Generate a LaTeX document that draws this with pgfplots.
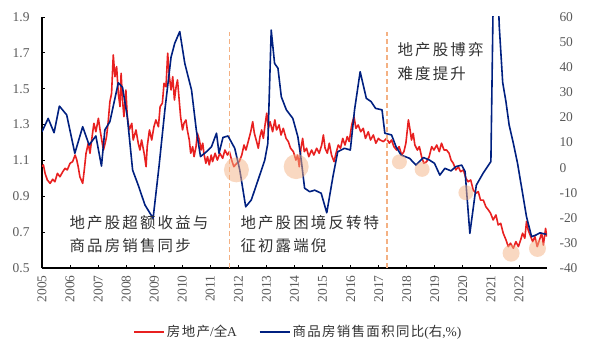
\documentclass[border=0pt]{standalone}
\usepackage{pgfplots}
\pgfplotsset{compat=1.18}
\usepackage{fontspec}
\setmainfont{Liberation Serif}
\newfontfamily\cjk[LetterSpace=14]{Noto Sans CJK SC}
\newfontfamily\cjkleg[LetterSpace=10]{Noto Sans CJK SC}
\definecolor{myred}{RGB}{232,32,32}
\definecolor{myblue}{RGB}{0,32,128}
\definecolor{peach}{RGB}{244,177,131}
\definecolor{tickgray}{RGB}{89,89,89}
\definecolor{txtgray}{RGB}{50,50,50}
\pgfplotstableread{
t v
2005.00 1.065
2005.05 1.075
2005.11 1.028
2005.19 0.991
2005.29 0.972
2005.38 0.995
2005.46 0.981
2005.55 1.028
2005.64 1.009
2005.74 1.037
2005.82 1.056
2005.90 1.047
2006.00 1.084
2006.09 1.093
2006.18 1.130
2006.24 1.102
2006.29 1.065
2006.35 1.009
2006.45 0.972
2006.50 1.037
2006.57 1.140
2006.65 1.196
2006.71 1.140
2006.77 1.214
2006.85 1.307
2006.92 1.260
2007.01 1.335
2007.07 1.270
2007.13 1.214
2007.19 1.158
2007.25 1.196
2007.30 1.232
2007.36 1.316
2007.42 1.428
2007.48 1.474
2007.54 1.688
2007.60 1.567
2007.66 1.623
2007.72 1.474
2007.78 1.400
2007.82 1.586
2007.87 1.437
2007.92 1.344
2007.99 1.493
2008.04 1.344
2008.11 1.270
2008.20 1.307
2008.25 1.214
2008.35 1.270
2008.43 1.196
2008.49 1.158
2008.55 1.214
2008.64 1.140
2008.71 1.065
2008.75 1.177
2008.83 1.270
2008.91 1.214
2008.99 1.288
2009.06 1.326
2009.15 1.288
2009.21 1.400
2009.29 1.419
2009.35 1.530
2009.42 1.511
2009.48 1.698
2009.54 1.567
2009.60 1.493
2009.66 1.567
2009.72 1.437
2009.78 1.511
2009.83 1.549
2009.89 1.437
2009.94 1.344
2010.01 1.270
2010.06 1.307
2010.13 1.326
2010.18 1.270
2010.25 1.214
2010.30 1.140
2010.37 1.177
2010.42 1.121
2010.49 1.177
2010.54 1.251
2010.61 1.214
2010.67 1.158
2010.73 1.196
2010.77 1.140
2010.84 1.084
2010.90 1.121
2010.96 1.075
2011.03 1.130
2011.08 1.093
2011.17 1.140
2011.25 1.102
2011.34 1.140
2011.44 1.112
2011.52 1.158
2011.61 1.130
2011.68 1.149
2011.76 1.102
2011.84 1.065
2011.94 1.084
2012.03 1.093
2012.12 1.130
2012.20 1.186
2012.27 1.158
2012.35 1.205
2012.44 1.260
2012.51 1.316
2012.57 1.251
2012.65 1.205
2012.71 1.168
2012.77 1.233
2012.83 1.270
2012.89 1.223
2012.95 1.298
2013.01 1.363
2013.07 1.279
2013.13 1.316
2013.22 1.260
2013.30 1.326
2013.36 1.270
2013.45 1.298
2013.52 1.242
2013.60 1.279
2013.70 1.223
2013.78 1.205
2013.86 1.168
2013.96 1.149
2014.05 1.102
2014.11 1.130
2014.17 1.065
2014.23 1.168
2014.29 1.223
2014.35 1.149
2014.43 1.168
2014.51 1.121
2014.61 1.158
2014.69 1.130
2014.79 1.168
2014.88 1.140
2014.97 1.186
2015.03 1.242
2015.09 1.168
2015.17 1.140
2015.24 1.196
2015.32 1.130
2015.41 1.093
2015.48 1.140
2015.56 1.186
2015.64 1.168
2015.72 1.223
2015.80 1.186
2015.88 1.233
2015.95 1.205
2016.04 1.298
2016.12 1.344
2016.19 1.279
2016.27 1.298
2016.36 1.260
2016.45 1.279
2016.53 1.223
2016.63 1.260
2016.71 1.214
2016.81 1.242
2016.90 1.196
2016.99 1.223
2017.05 1.214
2017.17 1.205
2017.28 1.223
2017.38 1.196
2017.46 1.214
2017.54 1.177
2017.64 1.158
2017.73 1.177
2017.82 1.130
2017.90 1.149
2017.97 1.196
2018.06 1.326
2018.12 1.270
2018.17 1.214
2018.23 1.251
2018.29 1.186
2018.38 1.158
2018.45 1.177
2018.53 1.121
2018.61 1.084
2018.71 1.093
2018.80 1.121
2018.89 1.177
2018.97 1.158
2019.07 1.186
2019.16 1.149
2019.24 1.196
2019.33 1.158
2019.42 1.158
2019.51 1.140
2019.58 1.102
2019.66 1.084
2019.75 1.047
2019.84 1.065
2019.92 1.037
2020.02 1.047
2020.11 1.000
2020.19 0.981
2020.28 0.991
2020.37 0.935
2020.47 0.917
2020.55 0.926
2020.63 0.879
2020.73 0.879
2020.82 0.842
2020.91 0.824
2020.99 0.805
2021.08 0.768
2021.18 0.796
2021.26 0.740
2021.35 0.749
2021.44 0.694
2021.54 0.656
2021.62 0.619
2021.70 0.638
2021.80 0.610
2021.89 0.647
2021.98 0.619
2022.06 0.656
2022.13 0.694
2022.21 0.666
2022.27 0.760
2022.33 0.712
2022.42 0.675
2022.49 0.647
2022.57 0.675
2022.65 0.619
2022.73 0.656
2022.81 0.694
2022.87 0.628
2022.95 0.721
2022.99 0.675
}\redtable
\pgfplotstableread{
t v
2005.00 14.3
2005.22 19.6
2005.43 13.9
2005.62 24.5
2005.88 21.0
2006.17 5.7
2006.45 16.3
2006.68 9.0
2006.92 12.6
2007.12 0.6
2007.24 15.0
2007.42 18.3
2007.72 33.8
2007.87 32.0
2008.04 20.3
2008.23 -1.0
2008.43 -7.0
2008.67 -14.9
2008.96 -20.2
2009.17 0.4
2009.38 23.0
2009.60 44.0
2009.73 49.5
2009.91 54.2
2010.09 41.5
2010.33 30.9
2010.50 15.0
2010.65 4.4
2010.86 6.3
2011.04 8.3
2011.22 13.7
2011.31 5.7
2011.45 12.0
2011.63 12.6
2011.87 7.7
2012.05 -1.0
2012.26 -15.6
2012.46 -12.9
2012.70 -5.0
2012.94 3.0
2013.05 9.7
2013.17 54.8
2013.29 41.5
2013.41 39.6
2013.53 28.2
2013.71 23.0
2013.94 19.6
2014.12 12.3
2014.24 3.0
2014.36 -8.2
2014.54 -9.6
2014.72 -9.0
2014.95 -10.2
2015.15 -18.0
2015.37 -3.6
2015.54 6.3
2015.78 7.7
2015.99 7.0
2016.14 23.0
2016.34 38.2
2016.56 27.6
2016.73 26.3
2016.89 23.6
2017.12 23.0
2017.22 13.7
2017.46 13.0
2017.62 8.3
2017.80 5.0
2018.10 3.7
2018.33 1.0
2018.60 4.0
2018.81 3.0
2018.99 1.7
2019.18 -3.0
2019.36 -0.3
2019.58 -1.3
2019.75 0.4
2019.96 1.0
2020.08 -1.6
2020.25 -26.2
2020.48 -7.0
2020.72 -2.3
2021.00 2.4
2021.13 104.9
2021.30 56.0
2021.42 34.0
2021.54 26.0
2021.65 17.0
2021.80 9.7
2021.95 1.7
2022.15 -11.6
2022.27 -19.6
2022.45 -27.5
2022.60 -26.9
2022.75 -26.0
2022.98 -26.6
}\bluetable
\begin{document}
\begin{tikzpicture}
\begin{axis}[
  scale only axis, width=505bp, height=251bp,
  xmin=2005, xmax=2023, ymin=0.5, ymax=1.9,
  axis x line*=bottom, axis y line*=left,
  axis line style={line width=1.2bp, black},
  tick align=inside, major tick length=3bp,
  tick style={black, line width=0.8bp},
  xtick={2005,2006,2007,2008,2009,2010,2011,2012,2013,2014,2015,2016,2017,2018,2019,2020,2021,2022},
  ytick={0.5,0.7,0.9,1.1,1.3,1.5,1.7,1.9},
  /pgf/number format/assume math mode=true,
  every tick label/.append style={font=\fontsize{13.5}{14}\selectfont, text=tickgray},
  yticklabel style={/pgf/number format/fixed, /pgf/number format/fixed zerofill, /pgf/number format/precision=1, xshift=-9bp},
  xticklabel style={/pgf/number format/1000 sep={}, rotate=90, anchor=east, xshift=-4bp},
  legend columns=2,
  legend style={at={(0.5076,-0.255)}, anchor=center, draw=none, fill=none,
    font=\fontsize{13.5}{14}\selectfont, text=txtgray,
    nodes={inner sep=2bp},
    /tikz/every even column/.append style={column sep=20bp}},
  legend image code/.code={\draw[#1] (0bp,0bp) -- (30bp,0bp);},
]
\addplot[myred, line width=1.6bp, line join=round] table[x=t, y=v] {\redtable};
\addlegendentry{{\cjkleg 房地产}/{\cjkleg 全}A}
\addlegendimage{myblue, line width=1.6bp}
\addlegendentry{{\cjkleg 商品房销售面积同比}(\hbox{\cjkleg 右},\%)}
\end{axis}
\begin{axis}[
  scale only axis, width=505bp, height=251bp,
  xmin=2005, xmax=2023, ymin=-40, ymax=60,
  axis x line=none, axis y line*=right,
  y axis line style={draw=none},
  major tick length=0bp,
  ytick={-40,-30,-20,-10,0,10,20,30,40,50,60},
  /pgf/number format/assume math mode=true,
  every tick label/.append style={font=\fontsize{13.5}{14}\selectfont, text=tickgray},
  yticklabel style={xshift=9bp},
]
\addplot[peach, line width=1.4bp, dash pattern=on 5bp off 3bp] coordinates {(2011.69,-40) (2011.69,54)};
\addplot[peach, line width=1.4bp, dash pattern=on 5bp off 3bp] coordinates {(2017.30,-40) (2017.30,54)};
\addplot[myblue, line width=1.6bp, line join=round] table[x=t, y=v] {\bluetable};
\addplot[only marks, mark=*, color=peach, mark size=12.5bp, mark options={solid, fill=peach, fill opacity=0.5, draw opacity=0}] coordinates {(2011.93,-0.9) (2014.06,0.4)};
\addplot[only marks, mark=*, color=peach, mark size=7.5bp, mark options={solid, fill=peach, fill opacity=0.5, draw opacity=0}] coordinates {(2017.74,2.3) (2018.55,-0.7) (2020.11,-10.0)};
\addplot[only marks, mark=*, color=peach, mark size=8.5bp, mark options={solid, fill=peach, fill opacity=0.5, draw opacity=0}] coordinates {(2021.72,-34.1) (2022.66,-32.2)};
\node[anchor=west, align=left, text=txtgray, font=\cjk\fontsize{15.5}{24}\selectfont] at (axis cs:2005.86,-26.5) {地产股超额收益与\\商品房销售同步};
\node[anchor=west, align=left, text=txtgray, font=\cjk\fontsize{15.5}{24}\selectfont] at (axis cs:2011.95,-26.5) {地产股困境反转特\\征初露端倪};
\node[anchor=west, align=left, text=txtgray, font=\cjk\fontsize{15.5}{24}\selectfont] at (axis cs:2017.55,42.1) {地产股博弈\\难度提升};
\end{axis}
\pgfresetboundingbox
\path (current axis.south west) ++(-42bp,-86bp) rectangle ++(591bp,354bp);
\end{tikzpicture}
\end{document}
